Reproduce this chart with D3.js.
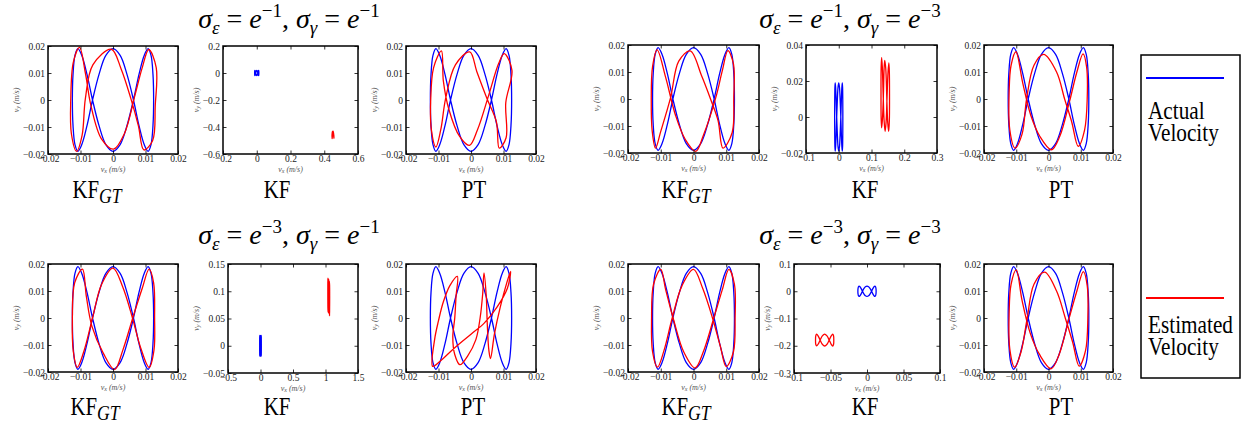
<!DOCTYPE html>
<html>
<head>
<meta charset="utf-8">
<script src="https://cdn.jsdelivr.net/npm/d3@7"></script>
<style>
  body { margin: 0; background: #fff; }
  svg { display: block; }
</style>
</head>
<body>
<svg id="chart" width="1242" height="425"></svg>
<script>
// ---------- data: velocity trajectories [vx, vy] in m/s ----------

// ground-truth (actual) velocity, one closed loop
const actualVelocity = [
  [0.0000, 0.0190], [0.0022, 0.0165], [0.0043, 0.0095], [0.0063, 0.0000],
  [0.0080, -0.0095], [0.0096, -0.0165], [0.0108, -0.0190], [0.0117, -0.0165],
  [0.0123, -0.0095], [0.0125, 0.0000], [0.0123, 0.0095], [0.0117, 0.0165],
  [0.0108, 0.0190], [0.0096, 0.0165], [0.0080, 0.0095], [0.0063, 0.0000],
  [0.0043, -0.0095], [0.0022, -0.0165], [0.0000, -0.0190], [-0.0022, -0.0165],
  [-0.0043, -0.0095], [-0.0063, 0.0000], [-0.0080, 0.0095], [-0.0096, 0.0165],
  [-0.0108, 0.0190], [-0.0117, 0.0165], [-0.0123, 0.0095], [-0.0125, 0.0000],
  [-0.0123, -0.0095], [-0.0117, -0.0165], [-0.0108, -0.0190], [-0.0096, -0.0165],
  [-0.0080, -0.0095], [-0.0063, 0.0000], [-0.0043, 0.0095], [-0.0022, 0.0165]
];

// estimated velocity, sigma_eps = e^-1, sigma_gamma = e^-1
const estKFGT_11 = [
  [-0.0005, 0.0188], [0.0025, 0.0115], [0.0055, 0.0005], [0.0078, -0.0095],
  [0.0095, -0.0185], [0.0122, -0.0150], [0.0130, -0.0020], [0.0133, 0.0120],
  [0.0110, 0.0187], [0.0090, 0.0120], [0.0068, 0.0020], [0.0035, -0.0125],
  [0.0002, -0.0182], [-0.0035, -0.0145], [-0.0068, -0.0020], [-0.0085, 0.0100],
  [-0.0103, 0.0195], [-0.0122, 0.0140], [-0.0130, 0.0000], [-0.0128, -0.0125],
  [-0.0112, -0.0190], [-0.0095, -0.0130], [-0.0085, 0.0005], [-0.0062, 0.0130]
];
const estKF_11 = [
  [0.452, -0.430], [0.455, -0.445], [0.457, -0.465], [0.458, -0.484],
  [0.456, -0.470], [0.455, -0.450], [0.453, -0.432], [0.450, -0.448],
  [0.448, -0.468], [0.447, -0.486], [0.446, -0.468], [0.447, -0.446],
  [0.449, -0.434]
];
const estPT_11 = [
  [-0.0004, 0.0178], [0.0018, 0.0105], [0.0050, 0.0003], [0.0078, -0.0080],
  [0.0087, -0.0178], [0.0108, -0.0140], [0.0107, -0.0010], [0.0126, 0.0110],
  [0.0102, 0.0172], [0.0085, 0.0135], [0.0055, 0.0020], [0.0020, -0.0110],
  [-0.0005, -0.0168], [-0.0035, -0.0135], [-0.0068, -0.0035], [-0.0085, 0.0070],
  [-0.0091, 0.0182], [-0.0115, 0.0120], [-0.0124, 0.0000], [-0.0122, -0.0110],
  [-0.0108, -0.0174], [-0.0093, -0.0110], [-0.0078, 0.0006], [-0.0048, 0.0130]
];

// estimated velocity, sigma_eps = e^-1, sigma_gamma = e^-3
const estKFGT_13 = [
  [-0.0010, 0.0178], [0.0025, 0.0085], [0.0052, 0.0000], [0.0075, -0.0080],
  [0.0090, -0.0182], [0.0118, -0.0125], [0.0123, 0.0005], [0.0122, 0.0130],
  [0.0105, 0.0179], [0.0088, 0.0105], [0.0068, 0.0005], [0.0030, -0.0135],
  [0.0007, -0.0194], [-0.0025, -0.0150], [-0.0055, -0.0060], [-0.0085, 0.0080],
  [-0.0111, 0.0182], [-0.0125, 0.0120], [-0.0129, 0.0000], [-0.0126, -0.0120],
  [-0.0116, -0.0182], [-0.0100, -0.0120], [-0.0070, 0.0005], [-0.0045, 0.0140]
];
const estKF_13 = [
  [0.1405, 0.0315], [0.1435, 0.0270], [0.1465, 0.0120], [0.1495, -0.0030],
  [0.1525, -0.0080], [0.1545, -0.0020], [0.1550, 0.0115], [0.1545, 0.0250],
  [0.1530, 0.0300], [0.1505, 0.0250], [0.1475, 0.0110], [0.1445, -0.0030],
  [0.1415, -0.0080], [0.1385, -0.0020], [0.1355, 0.0130], [0.1330, 0.0280],
  [0.1310, 0.0330], [0.1295, 0.0280], [0.1290, 0.0130], [0.1295, -0.0010],
  [0.1310, -0.0060], [0.1335, -0.0010], [0.1365, 0.0130], [0.1385, 0.0270]
];
const estPT_13 = [
  [-0.0015, 0.0165], [0.0025, 0.0100], [0.0050, 0.0000], [0.0072, -0.0085],
  [0.0092, -0.0175], [0.0112, -0.0114], [0.0120, 0.0000], [0.0118, 0.0120],
  [0.0107, 0.0167], [0.0088, 0.0100], [0.0065, -0.0010], [0.0035, -0.0138],
  [0.0009, -0.0188], [-0.0027, -0.0138], [-0.0055, -0.0060], [-0.0080, 0.0060],
  [-0.0101, 0.0175], [-0.0116, 0.0125], [-0.0122, 0.0030], [-0.0120, -0.0114],
  [-0.0104, -0.0182], [-0.0082, -0.0130], [-0.0068, 0.0000], [-0.0045, 0.0125]
];

// estimated velocity, sigma_eps = e^-3, sigma_gamma = e^-1
const estKFGT_31 = [
  [0.0000, 0.0185], [0.0030, 0.0115], [0.0060, 0.0000], [0.0085, -0.0110],
  [0.0111, -0.0183], [0.0126, -0.0120], [0.0128, 0.0000], [0.0125, 0.0130],
  [0.0111, 0.0181], [0.0090, 0.0110], [0.0062, 0.0005], [0.0030, -0.0120],
  [0.0005, -0.0191], [-0.0030, -0.0130], [-0.0065, -0.0030], [-0.0082, 0.0080],
  [-0.0094, 0.0181], [-0.0118, 0.0130], [-0.0125, 0.0000], [-0.0122, -0.0125],
  [-0.0110, -0.0183], [-0.0090, -0.0125], [-0.0063, 0.0000], [-0.0035, 0.0125]
];
const estKF_31 = [
  [1.050, 0.122], [1.055, 0.112], [1.058, 0.090], [1.060, 0.068],
  [1.062, 0.055], [1.063, 0.068], [1.064, 0.090], [1.063, 0.110],
  [1.060, 0.118], [1.057, 0.108], [1.052, 0.088], [1.048, 0.068],
  [1.045, 0.060], [1.042, 0.070], [1.040, 0.090], [1.038, 0.112],
  [1.037, 0.124], [1.036, 0.112], [1.036, 0.090], [1.037, 0.070],
  [1.039, 0.062], [1.042, 0.072], [1.045, 0.092], [1.048, 0.112]
];
const estPT_31 = [
  [-0.0042, 0.0154], [-0.0046, 0.0080], [-0.0050, 0.0000], [-0.0056, -0.0070],
  [-0.0050, -0.0135], [-0.0034, -0.0173], [-0.0010, -0.0140], [0.0015, -0.0080],
  [0.0028, 0.0000], [0.0036, 0.0090], [0.0040, 0.0167], [0.0047, 0.0080],
  [0.0050, -0.0020], [0.0055, -0.0120], [0.0060, -0.0150], [0.0072, -0.0060],
  [0.0090, 0.0040], [0.0110, 0.0130], [0.0122, 0.0173], [0.0112, 0.0110],
  [0.0080, 0.0040], [0.0040, -0.0020], [0.0000, -0.0060], [-0.0050, -0.0110],
  [-0.0095, -0.0160], [-0.0118, -0.0179], [-0.0112, -0.0080], [-0.0100, -0.0010],
  [-0.0085, 0.0060], [-0.0065, 0.0120]
];

// estimated velocity, sigma_eps = e^-3, sigma_gamma = e^-3
const estKFGT_33 = [
  [0.0000, 0.0180], [0.0028, 0.0110], [0.0058, 0.0000], [0.0082, -0.0105],
  [0.0100, -0.0180], [0.0122, -0.0125], [0.0127, 0.0000], [0.0125, 0.0125],
  [0.0108, 0.0180], [0.0088, 0.0105], [0.0062, 0.0000], [0.0030, -0.0125],
  [0.0005, -0.0185], [-0.0030, -0.0125], [-0.0060, -0.0010], [-0.0085, 0.0105],
  [-0.0100, 0.0180], [-0.0122, 0.0125], [-0.0128, 0.0000], [-0.0125, -0.0125],
  [-0.0110, -0.0182], [-0.0090, -0.0120], [-0.0065, 0.0000], [-0.0035, 0.0120]
];
const estKF_33 = [
  [-0.0580, -0.1570], [-0.0548, -0.1640], [-0.0518, -0.1790], [-0.0490, -0.1950],
  [-0.0470, -0.2010], [-0.0458, -0.1945], [-0.0455, -0.1790], [-0.0458, -0.1635],
  [-0.0470, -0.1575], [-0.0490, -0.1640], [-0.0518, -0.1790], [-0.0548, -0.1945],
  [-0.0580, -0.2010], [-0.0612, -0.1945], [-0.0642, -0.1790], [-0.0670, -0.1635],
  [-0.0690, -0.1575], [-0.0702, -0.1640], [-0.0705, -0.1790], [-0.0702, -0.1945],
  [-0.0690, -0.2005], [-0.0670, -0.1945], [-0.0642, -0.1790], [-0.0612, -0.1635]
];
const estPT_33 = [
  [-0.0012, 0.0170], [0.0025, 0.0100], [0.0052, 0.0000], [0.0075, -0.0090],
  [0.0095, -0.0178], [0.0115, -0.0120], [0.0122, 0.0000], [0.0120, 0.0120],
  [0.0108, 0.0172], [0.0088, 0.0100], [0.0063, -0.0005], [0.0033, -0.0135],
  [0.0008, -0.0188], [-0.0028, -0.0135], [-0.0057, -0.0055], [-0.0082, 0.0065],
  [-0.0100, 0.0178], [-0.0116, 0.0125], [-0.0122, 0.0020], [-0.0120, -0.0115],
  [-0.0105, -0.0182], [-0.0085, -0.0125], [-0.0066, 0.0000], [-0.0045, 0.0125]
];

// ---------- axis ticks ----------
const ticksSmall = [-0.02, -0.01, 0, 0.01, 0.02];
const ticksKF11x = [-0.2, 0, 0.2, 0.4, 0.6];
const ticksKF11y = [-0.6, -0.4, -0.2, 0, 0.2];
const ticksKF13x = [-0.1, 0, 0.1, 0.2, 0.3];
const ticksKF13y = [-0.02, 0, 0.02, 0.04];
const ticksKF31x = [-0.5, 0, 0.5, 1, 1.5];
const ticksKF31y = [-0.05, 0, 0.05, 0.1, 0.15];
const ticksKF33x = [-0.1, -0.05, 0, 0.05, 0.1];
const ticksKF33y = [-0.3, -0.2, -0.1, 0, 0.1];

// ---------- titles and labels ----------
const groupTitles = [
  { eps: "\u22121", gam: "\u22121" },
  { eps: "\u22121", gam: "\u22123" },
  { eps: "\u22123", gam: "\u22121" },
  { eps: "\u22123", gam: "\u22123" }
];
const legendItems = [
  { lines: ["Actual", "Velocity"], color: "#0000ff" },
  { lines: ["Estimated", "Velocity"], color: "#ff0000" }
];

// ---------- layout ----------
const panels = [
  // sigma_eps = e^-1, sigma_gamma = e^-1
  { box: [48, 178, 46, 154], cap: 97, capY: 198, name: "KF", sub: "GT", xd: [-0.02, 0.02], yd: [-0.02, 0.02], xt: ticksSmall, yt: ticksSmall, est: estKFGT_11 },
  { box: [223, 358, 46, 154], cap: 277, capY: 198, name: "KF", sub: "", xd: [-0.2, 0.6], yd: [-0.6, 0.2], xt: ticksKF11x, yt: ticksKF11y, est: estKF_11 },
  { box: [406, 536, 46, 154], cap: 474, capY: 198, name: "PT", sub: "", xd: [-0.02, 0.02], yd: [-0.02, 0.02], xt: ticksSmall, yt: ticksSmall, est: estPT_11 },
  // sigma_eps = e^-1, sigma_gamma = e^-3
  { box: [628, 759, 45, 153], cap: 686, capY: 198, name: "KF", sub: "GT", xd: [-0.02, 0.02], yd: [-0.02, 0.02], xt: ticksSmall, yt: ticksSmall, est: estKFGT_13 },
  { box: [806, 937, 45, 153], cap: 865, capY: 198, name: "KF", sub: "", xd: [-0.1, 0.3], yd: [-0.02, 0.04], xt: ticksKF13x, yt: ticksKF13y, est: estKF_13 },
  { box: [984, 1113, 45, 153], cap: 1061, capY: 198, name: "PT", sub: "", xd: [-0.02, 0.02], yd: [-0.02, 0.02], xt: ticksSmall, yt: ticksSmall, est: estPT_13 },
  // sigma_eps = e^-3, sigma_gamma = e^-1
  { box: [48, 178, 264, 372], cap: 95, capY: 415, name: "KF", sub: "GT", xd: [-0.02, 0.02], yd: [-0.02, 0.02], xt: ticksSmall, yt: ticksSmall, est: estKFGT_31 },
  { box: [228, 358, 264, 373], cap: 277, capY: 415, name: "KF", sub: "", xd: [-0.5, 1.5], yd: [-0.05, 0.15], xt: ticksKF31x, yt: ticksKF31y, est: estKF_31 },
  { box: [406, 536, 264, 372], cap: 473, capY: 415, name: "PT", sub: "", xd: [-0.02, 0.02], yd: [-0.02, 0.02], xt: ticksSmall, yt: ticksSmall, est: estPT_31 },
  // sigma_eps = e^-3, sigma_gamma = e^-3
  { box: [628, 759, 264, 372], cap: 686, capY: 415, name: "KF", sub: "GT", xd: [-0.02, 0.02], yd: [-0.02, 0.02], xt: ticksSmall, yt: ticksSmall, est: estKFGT_33 },
  { box: [794, 940, 264, 373], cap: 865, capY: 415, name: "KF", sub: "", xd: [-0.1, 0.1], yd: [-0.3, 0.1], xt: ticksKF33x, yt: ticksKF33y, est: estKF_33 },
  { box: [984, 1113, 264, 372], cap: 1061, capY: 415, name: "PT", sub: "", xd: [-0.02, 0.02], yd: [-0.02, 0.02], xt: ticksSmall, yt: ticksSmall, est: estPT_33 }
];
const titlePos = [
  { cx: 289, y: 28 }, { cx: 850, y: 28 }, { cx: 289, y: 244 }, { cx: 850, y: 244 }
];

const serif = "'Liberation Serif', 'Times New Roman', Times, serif";
const svg = d3.select("#chart");
const squeeze = 0.8;          // horizontal glyph compression of captions and legend
const tickLen = 3.5;
const minus = v => String(v).replace("-", "\u2212");

function drawPanel(p, i) {
  const [l, r, t, b] = p.box;
  const x = d3.scaleLinear().domain(p.xd).range([l, r]);
  const y = d3.scaleLinear().domain(p.yd).range([b, t]);
  const g = svg.append("g");

  const clipId = "clip" + i;
  g.append("clipPath").attr("id", clipId)
    .append("rect").attr("x", l).attr("y", t).attr("width", r - l).attr("height", b - t);

  const line = d3.line()
    .x(d => x(d[0])).y(d => y(d[1]))
    .curve(d3.curveCatmullRomClosed.alpha(0.5));

  const plot = g.append("g").attr("clip-path", `url(#${clipId})`);
  plot.append("path").datum(actualVelocity).attr("d", line)
    .attr("fill", "none").attr("stroke", "#0000ff").attr("stroke-width", 1.3);
  plot.append("path").datum(p.est).attr("d", line)
    .attr("fill", "none").attr("stroke", "#ff0000").attr("stroke-width", 1.3);

  const styleAxis = sel => {
    sel.attr("font-family", serif);
    sel.select(".domain").remove();
    sel.selectAll(".tick line").attr("stroke", "#000").attr("stroke-width", 0.8);
    sel.selectAll("text").attr("font-size", 9.5).attr("fill", "#222");
  };

  g.append("g").attr("transform", `translate(0,${b})`)
    .call(d3.axisBottom(x).tickValues(p.xt).tickFormat(minus).tickSizeInner(-tickLen).tickSizeOuter(0).tickPadding(1.5))
    .call(styleAxis);
  const yAxis = g.append("g").attr("transform", `translate(${l},0)`)
    .call(d3.axisLeft(y).tickValues(p.yt).tickFormat(minus).tickSizeInner(-tickLen).tickSizeOuter(0).tickPadding(3))
    .call(styleAxis);
  g.append("g").attr("transform", `translate(0,${t})`)
    .call(d3.axisTop(x).tickValues(p.xt).tickFormat("").tickSizeInner(-tickLen).tickSizeOuter(0))
    .call(styleAxis);
  g.append("g").attr("transform", `translate(${r},0)`)
    .call(d3.axisRight(y).tickValues(p.yt).tickFormat("").tickSizeInner(-tickLen).tickSizeOuter(0))
    .call(styleAxis);

  g.append("rect").attr("x", l).attr("y", t).attr("width", r - l).attr("height", b - t)
    .attr("fill", "none").attr("stroke", "#000").attr("stroke-width", 1.5);

  // axis titles
  const xl = g.append("text").attr("x", (l + r) / 2).attr("y", b + 17.5)
    .attr("text-anchor", "middle").attr("font-size", 8).attr("fill", "#555")
    .attr("font-family", serif).attr("font-style", "italic");
  xl.append("tspan").text("v");
  xl.append("tspan").attr("font-size", 6).attr("dy", 1.5).text("x");
  xl.append("tspan").attr("dy", -1.5).text(" (m/s)");

  let maxW = 0;
  yAxis.selectAll("text").each(function () { maxW = Math.max(maxW, this.getBBox().width); });
  const yx = l - 3 - maxW - 4;
  const yl = g.append("text")
    .attr("transform", `translate(${yx},${(t + b) / 2}) rotate(-90)`)
    .attr("text-anchor", "middle").attr("font-size", 8).attr("fill", "#555")
    .attr("font-family", serif).attr("font-style", "italic");
  yl.append("tspan").text("v");
  yl.append("tspan").attr("font-size", 6).attr("dy", 1.5).text("y");
  yl.append("tspan").attr("dy", -1.5).text(" (m/s)");

  // panel caption
  const cap = g.append("text")
    .attr("transform", `translate(${p.cap},${p.capY}) scale(${squeeze},1)`)
    .attr("text-anchor", "middle").attr("font-size", 26).attr("fill", "#000")
    .attr("font-family", serif);
  cap.append("tspan").text(p.name);
  if (p.sub) cap.append("tspan").attr("dy", 5).attr("font-size", 22).attr("font-style", "italic").text(p.sub);
}

panels.forEach(drawPanel);

// group titles: sigma_eps = e^a, sigma_gamma = e^b
groupTitles.forEach((tt, i) => {
  const pos = titlePos[i];
  const txt = svg.append("text")
    .attr("transform", `translate(${pos.cx},${pos.y})`)
    .attr("text-anchor", "middle").attr("font-size", 28).attr("fill", "#000")
    .attr("font-family", serif);
  const it = s => s.attr("font-style", "italic");
  it(txt.append("tspan").text("\u03c3"));
  it(txt.append("tspan").attr("dy", 6).attr("font-size", 19).text("\u03b5"));
  txt.append("tspan").attr("dy", -6).text(" = ");
  it(txt.append("tspan").text("e"));
  txt.append("tspan").attr("dy", -11).attr("font-size", 19).text(tt.eps);
  txt.append("tspan").attr("dy", 11).text(", ");
  it(txt.append("tspan").text("\u03c3"));
  it(txt.append("tspan").attr("dy", 6).attr("font-size", 19).text("\u03b3"));
  txt.append("tspan").attr("dy", -6).text(" = ");
  it(txt.append("tspan").text("e"));
  txt.append("tspan").attr("dy", -11).attr("font-size", 19).text(tt.gam);
});

// legend: one two-line text block per entry
const lg = svg.append("g");
lg.append("rect").attr("x", 1141).attr("y", 55).attr("width", 99).attr("height", 323)
  .attr("fill", "#fff").attr("stroke", "#000").attr("stroke-width", 1.5);
const legendY = [78, 298];
const legendTextY = [119, 333];
legendItems.forEach((item, i) => {
  const y0 = legendY[i];
  lg.append("line").attr("x1", 1146).attr("x2", 1224).attr("y1", y0).attr("y2", y0)
    .attr("stroke", item.color).attr("stroke-width", 2);
  const txt = lg.append("text")
    .attr("transform", `translate(1148,${legendTextY[i]}) scale(0.85,1)`)
    .attr("font-size", 25).attr("fill", "#000").attr("font-family", serif);
  item.lines.forEach((s, j) => {
    txt.append("tspan").attr("x", 0).attr("dy", j === 0 ? 0 : 22).text(s);
  });
});
</script>
</body>
</html>
